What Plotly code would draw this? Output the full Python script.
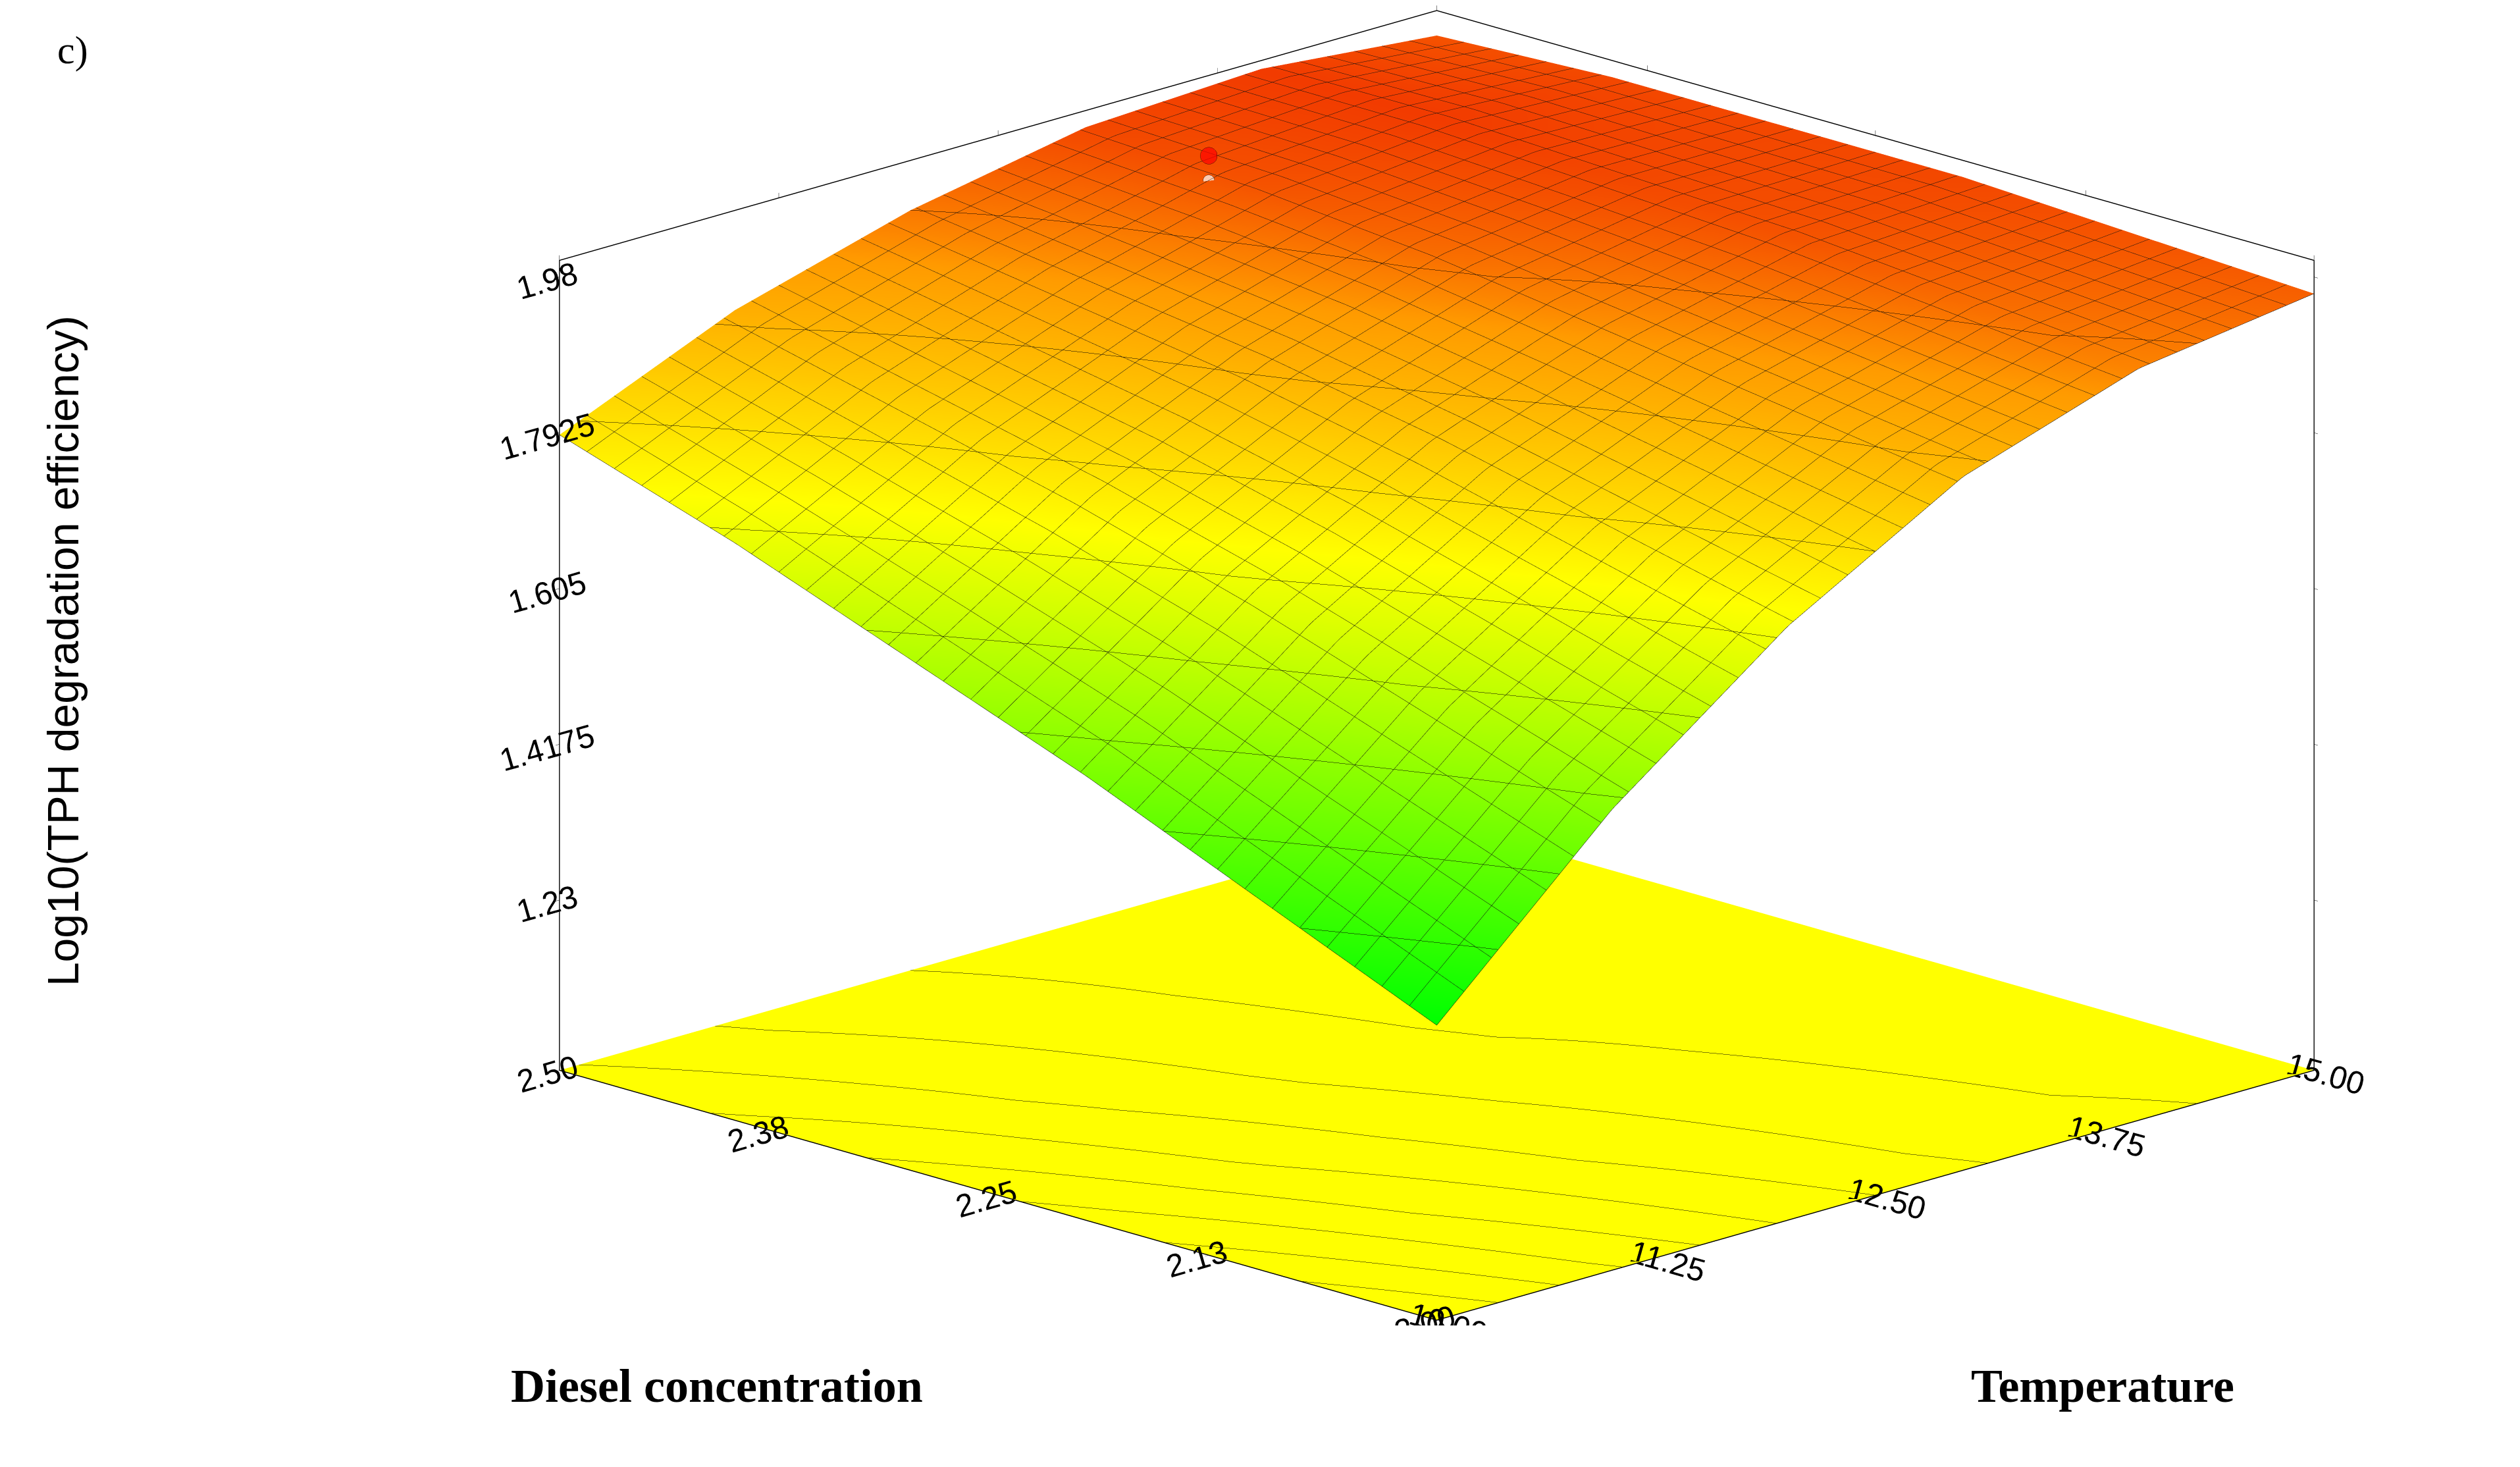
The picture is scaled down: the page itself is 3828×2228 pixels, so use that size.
import plotly.graph_objects as go

# values
temperature = [10.0, 11.0, 12.0, 13.0, 14.0, 15.0]
diesel = [2.0, 2.1, 2.2, 2.3, 2.4, 2.5]
log_tph = [
    [1.38, 1.58, 1.74, 1.86, 1.93, 1.96],  # diesel 2.0
    [1.47, 1.65, 1.79, 1.89, 1.95, 1.97],
    [1.56, 1.72, 1.84, 1.92, 1.97, 1.98],
    [1.64, 1.78, 1.88, 1.95, 1.98, 1.98],
    [1.72, 1.83, 1.91, 1.97, 1.99, 1.98],
    [1.79, 1.88, 1.94, 1.98, 1.99, 1.97],  # diesel 2.5
]
z_ticks = [1.23, 1.4175, 1.605, 1.7925, 1.98]
z_labels = ["1.23", "1.4175", "1.605", "1.7925", "1.98"]
t_ticks = [10, 11.25, 12.5, 13.75, 15]
t_labels = ["10.00", "11.25", "12.50", "13.75", "15.00"]
d_ticks = [2.0, 2.13, 2.25, 2.38, 2.5]
d_labels = ["2.00", "2.13", "2.25", "2.38", "2.50"]
design_pt = dict(t=[12.9, 12.9], d=[2.42, 2.42], z=[2.0, 1.97])

scale = [[0, "#00ff00"], [0.6, "#ffff00"], [0.86, "#ff9a00"], [1, "#f03000"]]

fig = go.Figure()
fig.add_trace(go.Surface(
    x=temperature, y=diesel, z=log_tph,
    colorscale=scale, cmin=1.38, cmax=2.0, showscale=False,
    lighting=dict(ambient=0.85, diffuse=0.35, specular=0.05),
    contours=dict(
        x=dict(show=True, color="#111111", start=10, end=15, size=5 / 32, width=2),
        y=dict(show=True, color="#111111", start=2.0, end=2.5, size=0.5 / 32, width=2),
    ),
))
# invisible copy that only carries the contour projection onto the floor
fig.add_trace(go.Surface(
    x=temperature, y=diesel, z=log_tph, opacity=0, showscale=False,
    hoverinfo="skip",
    contours=dict(z=dict(show=True, project=dict(z=True), color="black",
                         start=1.45, end=1.95, size=0.07, width=3)),
))
fig.add_trace(go.Scatter3d(
    x=design_pt["t"], y=design_pt["d"], z=design_pt["z"], mode="markers",
    marker=dict(size=[30, 20], color=["red", "white"], line=dict(color="black", width=1)),
))

ax = dict(showgrid=False, showline=True, mirror="all", linecolor="black", linewidth=3,
          ticks="outside", tickcolor="black", ticklen=8, showspikes=False, title=dict(text=""),
          tickfont=dict(family="Arial, Liberation Sans", size=24, color="black"),
          showbackground=False, zeroline=False)

fig.update_layout(
    width=3828, height=2228, paper_bgcolor="white", showlegend=False,
    margin=dict(l=0, r=0, t=0, b=0),
    scene=dict(
        domain=dict(x=[0.136, 1.0], y=[0.1, 1.0]),
        xaxis=dict(ax, range=[10, 15], tickvals=t_ticks, ticktext=t_labels),
        yaxis=dict(ax, range=[2.0, 2.5], tickvals=d_ticks, ticktext=d_labels),
        zaxis=dict(ax, range=[1.025, 2.0], tickvals=z_ticks, ticktext=z_labels,
                   showbackground=True, backgroundcolor="#ffff00"),
        aspectmode="manual", aspectratio=dict(x=1.88, y=1.88, z=1.28),
        camera=dict(eye=dict(x=-1.0, y=-1.0, z=0.42), center=dict(x=0, y=0, z=0),
                    projection=dict(type="orthographic")),
    ),
    annotations=[
        dict(text="c)", x=0.02, y=0.985, xref="paper", yref="paper", showarrow=False,
             font=dict(family="Times New Roman, Liberation Serif", size=60, color="black")),
        dict(text="<b>Diesel concentration</b>", x=0.2, y=0.04, xref="paper", yref="paper",
             showarrow=False,
             font=dict(family="Times New Roman, Liberation Serif", size=72, color="black")),
        dict(text="<b>Temperature</b>", x=0.885, y=0.04, xref="paper", yref="paper",
             showarrow=False,
             font=dict(family="Times New Roman, Liberation Serif", size=72, color="black")),
        dict(text="Log10(TPH degradation efficiency)", x=0.013, y=0.56, xref="paper",
             yref="paper", showarrow=False, textangle=-90,
             font=dict(family="Arial, Liberation Sans", size=66, color="black")),
    ],
)

fig.write_html("out.html")
